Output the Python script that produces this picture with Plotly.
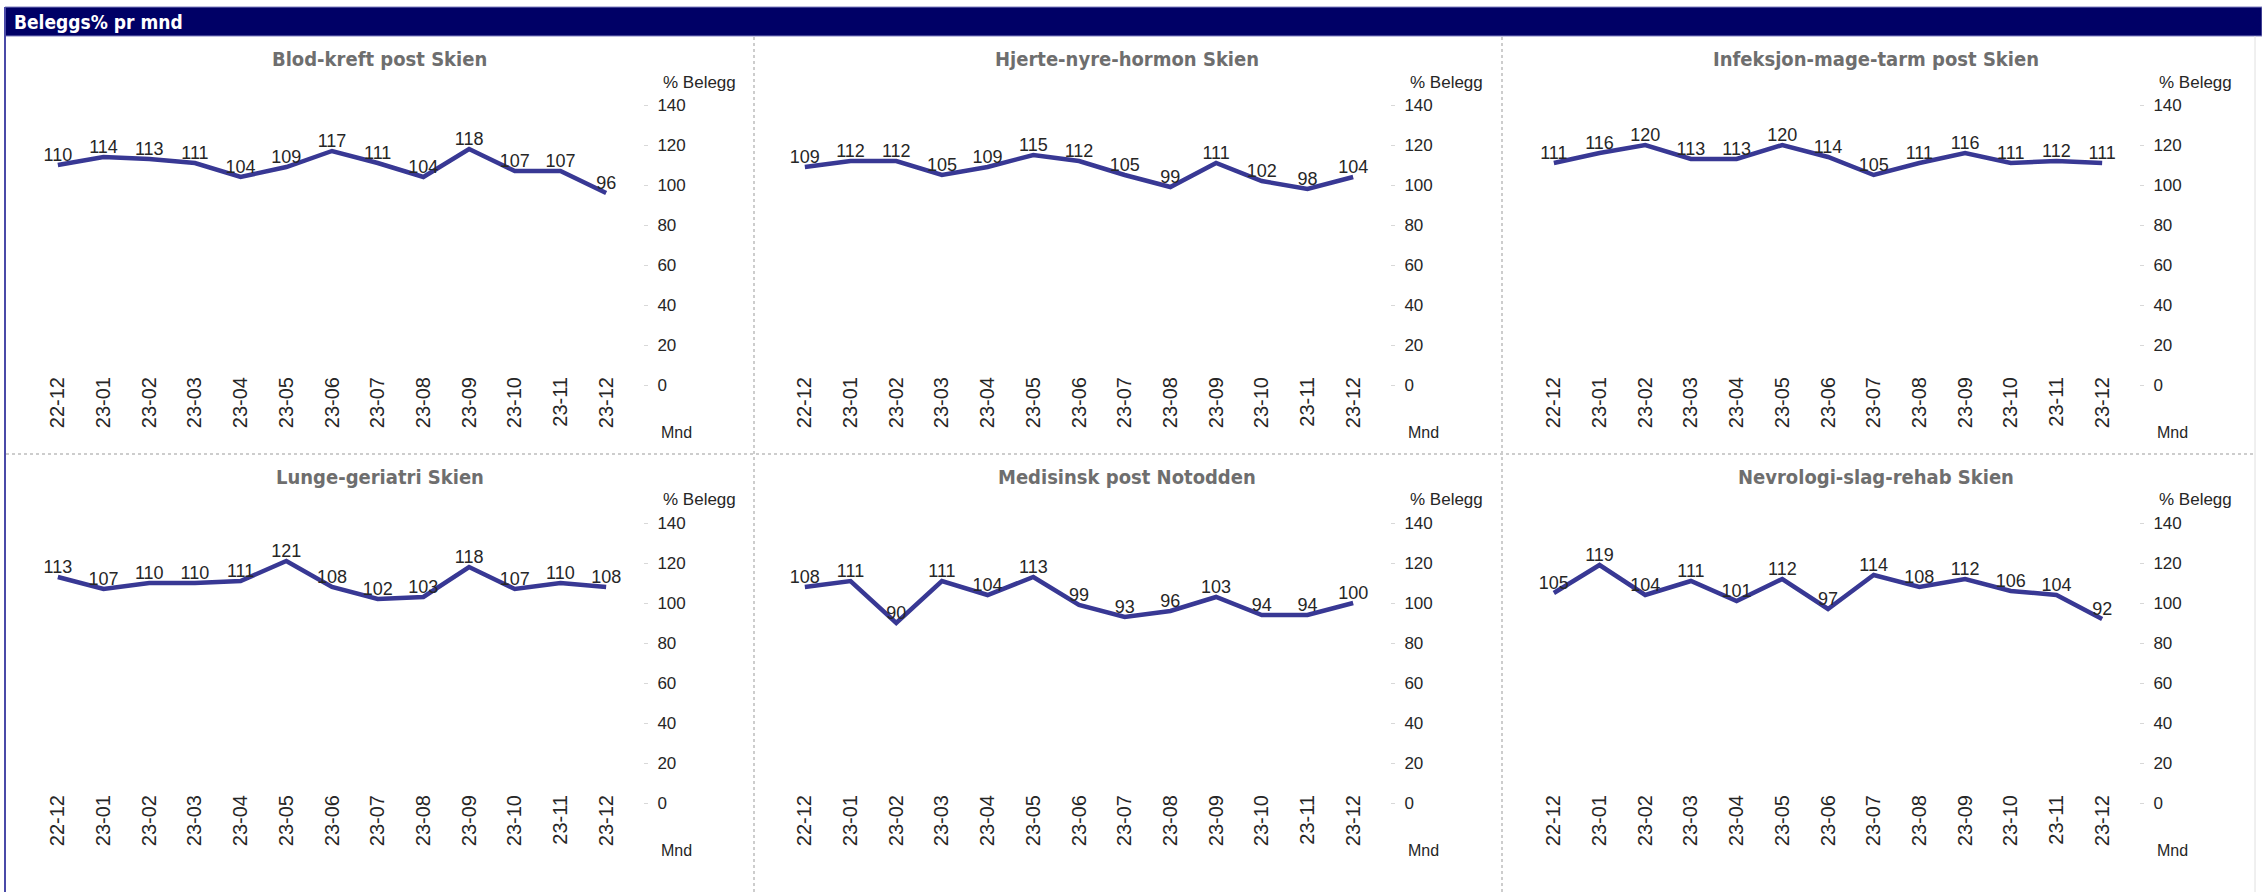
import plotly.graph_objects as go

W, H = 2262, 892

months = ["22-12", "23-01", "23-02", "23-03", "23-04", "23-05", "23-06",
          "23-07", "23-08", "23-09", "23-10", "23-11", "23-12"]

titles = ["Blod-kreft post Skien", "Hjerte-nyre-hormon Skien",
          "Infeksjon-mage-tarm post Skien", "Lunge-geriatri Skien",
          "Medisinsk post Notodden", "Nevrologi-slag-rehab Skien"]

blod_kreft = [110, 114, 113, 111, 104, 109, 117, 111, 104, 118, 107, 107, 96]
hjerte_nyre = [109, 112, 112, 105, 109, 115, 112, 105, 99, 111, 102, 98, 104]
infeksjon = [111, 116, 120, 113, 113, 120, 114, 105, 111, 116, 111, 112, 111]
lunge_geriatri = [113, 107, 110, 110, 111, 121, 108, 102, 103, 118, 107, 110, 108]
medisinsk_notodden = [108, 111, 90, 111, 104, 113, 99, 93, 96, 103, 94, 94, 100]
nevrologi = [105, 119, 104, 111, 101, 112, 97, 114, 108, 112, 106, 104, 92]

series = [blod_kreft, hjerte_nyre, infeksjon, lunge_geriatri,
          medisinsk_notodden, nevrologi]

y_ticks = [0, 20, 40, 60, 80, 100, 120, 140]

LINE = "#383894"
TEXT = "#262626"
TITLE = "#6e6e6e"
GRID = "#cdcdcd"
SANS = "Liberation Sans, Arial, sans-serif"
HEAD = "DejaVu Sans Condensed, DejaVu Sans, Verdana, sans-serif"


def fx(p):
    return p / W


def fy(p):
    return 1 - p / H


col_off = [0, 747, 1496]
row_off = [0, 418]

fig = go.Figure()
annotations = []
shapes = []

for i, (name, vals) in enumerate(zip(titles, series)):
    r, c = divmod(i, 3)
    xo, yo = col_off[c], row_off[r]
    n = "" if i == 0 else str(i + 1)
    xa, ya = "x" + n, "y" + n

    fig.add_trace(go.Scatter(
        x=months, y=vals, mode="lines+text",
        text=[str(v) for v in vals], textposition="top center",
        textfont=dict(family=SANS, size=18, color=TEXT),
        line=dict(color=LINE, width=4.5),
        cliponaxis=False, hoverinfo="skip", showlegend=False,
        xaxis=xa, yaxis=ya,
    ))

    fig.layout["xaxis" + n] = dict(
        domain=[fx(35 + xo), fx(629 + xo)], anchor="free",
        position=fy(366 + yo),
        type="category", range=[-0.5, 12.5], tickangle=-90,
        showgrid=False, zeroline=False, showline=False, ticks="",
        ticklabelstandoff=6, automargin=False,
        tickfont=dict(family=SANS, size=20, color=TEXT),
    )
    fig.layout["yaxis" + n] = dict(
        domain=[fy(385 + yo), fy(105 + yo)], anchor="free",
        position=fx(643 + xo), side="right", range=[0, 140],
        tickvals=y_ticks, showgrid=False, zeroline=False, showline=False,
        ticks="outside", ticklen=4, tickcolor="#d8d8d8", tickwidth=1,
        ticklabelstandoff=6, automargin=False,
        tickfont=dict(family=SANS, size=17, color=TEXT),
    )

    annotations.append(dict(
        text="<b>" + name + "</b>", xref="paper", yref="paper",
        x=fx(380 + xo), y=fy(59 + yo), xanchor="center", yanchor="middle",
        showarrow=False, font=dict(family=HEAD, size=20, color=TITLE),
    ))
    annotations.append(dict(
        text="% Belegg", xref="paper", yref="paper",
        x=fx(661 + xo), y=fy(82 + yo), xanchor="left", yanchor="middle",
        showarrow=False, font=dict(family=SANS, size=17, color=TEXT),
    ))
    annotations.append(dict(
        text="Mnd", xref="paper", yref="paper",
        x=fx(659 + xo), y=fy(432 + yo), xanchor="left", yanchor="middle",
        showarrow=False, font=dict(family=SANS, size=16, color=TEXT),
    ))

# header bar with caption
shapes.append(dict(type="rect", xref="paper", yref="paper",
                   x0=fx(5), x1=1, y0=fy(36), y1=fy(7),
                   fillcolor="#000066", line=dict(color="#8080c0", width=1),
                   layer="below"))
annotations.append(dict(
    text="<b>Beleggs% pr mnd</b>", xref="paper", yref="paper",
    x=fx(12), y=fy(22), xanchor="left", yanchor="middle", showarrow=False,
    font=dict(family=HEAD, size=19, color="white"),
))

# frame lines
shapes.append(dict(type="line", xref="paper", yref="paper",
                   x0=fx(5), x1=fx(5), y0=0, y1=fy(7),
                   line=dict(color="#4a4aa8", width=2)))
shapes.append(dict(type="line", xref="paper", yref="paper",
                   x0=fx(2255), x1=fx(2255), y0=0, y1=fy(36),
                   line=dict(color="#e0e0e0", width=1)))

# dotted panel separators
for xs in (754, 1502):
    shapes.append(dict(type="line", xref="paper", yref="paper",
                       x0=fx(xs), x1=fx(xs), y0=0, y1=fy(37),
                       line=dict(color=GRID, width=2, dash="dot")))
shapes.append(dict(type="line", xref="paper", yref="paper",
                   x0=fx(6), x1=fx(2254), y0=fy(454), y1=fy(454),
                   line=dict(color=GRID, width=2, dash="dot")))

fig.update_layout(
    template="none",
    width=W, height=H, margin=dict(l=0, r=0, t=0, b=0, pad=0),
    paper_bgcolor="white", plot_bgcolor="white",
    annotations=annotations, shapes=shapes,
)

# page without default body margin so the figure fills the window exactly
fig.write_html(
    "out.html",
    post_script="document.body.style.margin='0';"
                "document.documentElement.style.overflow='hidden';",
)
